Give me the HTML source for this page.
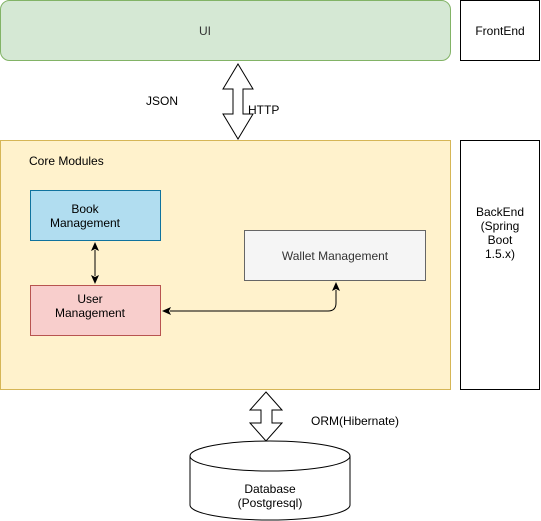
<!DOCTYPE html>
<html><head><style>
body{margin:0;background:#fff;}
svg{display:block;font-family:"Liberation Sans",Helvetica,Arial,sans-serif;font-size:12px;}
</style></head><body>
<svg width="541" height="521" viewBox="0 0 541 521" xmlns="http://www.w3.org/2000/svg">
<rect x="0.5" y="0.5" width="450" height="60" rx="9" fill="#d5e8d4" stroke="#82b366"/>
<text x="205" y="35" text-anchor="middle" fill="#333">UI</text>
<rect x="460.5" y="0.5" width="79" height="60" fill="#fff" stroke="#000"/>
<text x="500" y="35" text-anchor="middle">FrontEnd</text>
<path d="M238,64 L253,89 L243,89 L243,114 L253,114 L238,139 L223,114 L233,114 L233,89 L223,89 Z" fill="#fff" stroke="#000"/>
<text x="146" y="105" fill="#000">JSON</text>
<text x="248" y="114" fill="#000">HTTP</text>
<rect x="0.5" y="140.5" width="450" height="249" fill="#fff2cc" stroke="#d6b656"/>
<text x="29" y="165">Core Modules</text>
<rect x="460.5" y="140.5" width="79" height="249" fill="#fff" stroke="#000"/>
<text text-anchor="middle"><tspan x="500" y="216">BackEnd</tspan><tspan x="500" y="230">(Spring</tspan><tspan x="500" y="244">Boot</tspan><tspan x="500" y="258">1.5.x)</tspan></text>
<rect x="30.5" y="190.5" width="130" height="50" fill="#b1ddf0" stroke="#10739e"/>
<text text-anchor="middle"><tspan x="85" y="213">Book</tspan><tspan x="85" y="227">Management</tspan></text>
<rect x="30.5" y="285.5" width="130" height="50" fill="#f8cecc" stroke="#b85450"/>
<text text-anchor="middle"><tspan x="90" y="303">User</tspan><tspan x="90" y="317">Management</tspan></text>
<rect x="244.5" y="230.5" width="181" height="50" fill="#f5f5f5" stroke="#666"/>
<text x="335" y="260" text-anchor="middle" fill="#333">Wallet Management</text>
<line x1="95" y1="250" x2="95" y2="276" stroke="#000"/>
<path d="M95,242 L99,251 L95,249 L91,251 Z M95,284 L99,275 L95,277 L91,275 Z" fill="#000"/>
<path d="M170,311 L328,311 Q336,311 336,303 L336,290" fill="none" stroke="#000"/>
<path d="M162,311 L171,307 L169,311 L171,315 Z M336,282 L340,291 L336,289 L332,291 Z" fill="#000"/>
<path d="M266,392 L282,410 L272,410 L272,423 L282,423 L266,441 L250,423 L261,423 L261,410 L250,410 Z" fill="#fff" stroke="#000"/>
<text x="311" y="425">ORM(Hibernate)</text>
<path d="M190,456 L190,505 A80,15 0 0 0 350,505 L350,456" fill="#fff" stroke="#000"/>
<ellipse cx="270" cy="456" rx="80" ry="15" fill="#fff" stroke="#000"/>
<text text-anchor="middle"><tspan x="270" y="493">Database</tspan><tspan x="270" y="507">(Postgresql)</tspan></text>
</svg>
</body></html>
